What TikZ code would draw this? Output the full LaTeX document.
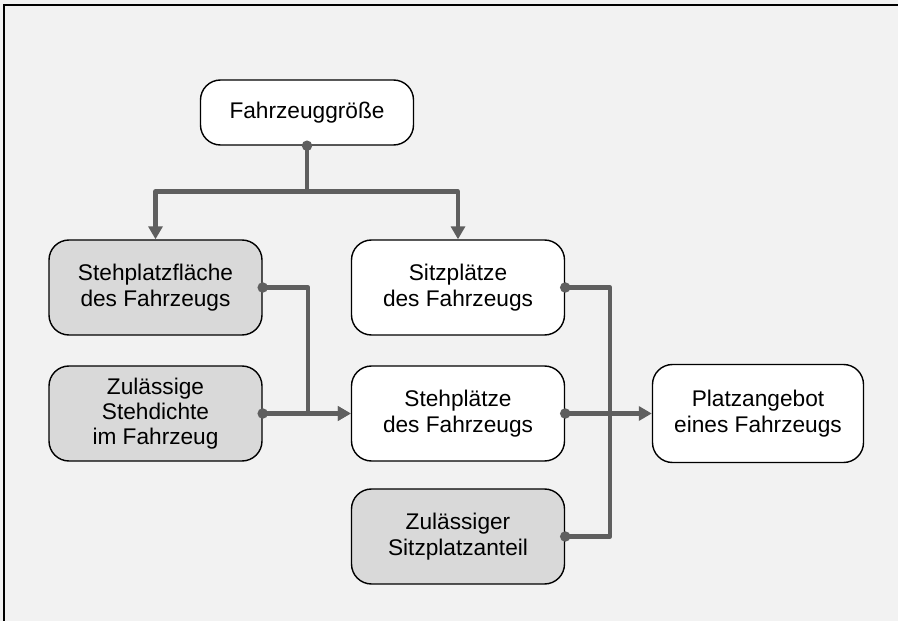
\documentclass[tikz,border=0pt]{standalone}
\usepackage{fontspec}
\setmainfont{Liberation Sans}
\usetikzlibrary{arrows.meta}

\definecolor{bggray}{HTML}{F2F2F2}
\definecolor{boxgray}{HTML}{D9D9D9}
\definecolor{linegray}{HTML}{5F5F5F}

\begin{document}
\begin{tikzpicture}[>={Triangle[length=0.26cm,width=0.28cm]},node distance=6cm,
  box/.style={draw=black,line width=0.8pt,rounded corners=0.4cm,fill=white,align=center,
    minimum width=4.26cm,minimum height=1.9cm,font=\fontsize{12.9}{14.4}\selectfont},
  greybox/.style={box,fill=boxgray},
  link/.style={draw=linegray,line width=2.3pt,line join=round}]

% background and frame
\useasboundingbox (0,0) rectangle (17.96,-12.42);
\fill[bggray] (-0.2,0.2) rectangle (18.2,-12.6);
\draw[line width=1.1pt] (0.08,-12.6) -- (0.08,-0.1) -- (18.2,-0.1);

\node[box,minimum height=1.3cm]  (groesse) at (6.14,-2.25)  {Fahrzeuggröße};
\node[greybox] (flaeche) at (3.11,-5.75) {Stehplatzfläche\\des Fahrzeugs};
\node[box]     (sitz)    [right of=flaeche,node distance=6.05cm] {Sitzplätze\\des Fahrzeugs};
\node[greybox] (dichte)  [below of=flaeche,node distance=2.52cm] {Zulässige\\Stehdichte\\im Fahrzeug};
\node[box]     (steh)    [below of=sitz,node distance=2.52cm]    {Stehplätze\\des Fahrzeugs};
\node[greybox] (anteil)  [below of=steh,node distance=2.46cm]    {Zulässiger\\Sitzplatzanteil};
\node[box,minimum width=4.22cm,minimum height=1.96cm] (angebot) [right of=steh] {Platzangebot\\eines Fahrzeugs};

\coordinate (split) at (groesse.south |- 0,-3.83);

\draw[link] (groesse.south) -- (split);
\draw[link,->] (split) -| (flaeche.north);
\draw[link,->] (split) -| (sitz.north);
\draw[link,->] (flaeche.east) -- ++(0.91,0) |- (steh.west);
\draw[link,->] (dichte.east) -- (steh.west);
\draw[link] (sitz.east) -- ++(0.9,0) |- (anteil.east);
\draw[link,->] (steh.east) -- (angebot.west);

\foreach \n/\a in {groesse/south,flaeche/east,dichte/east,sitz/east,steh/east,anteil/east}
  \fill[linegray] (\n.\a) circle (0.105);

\end{tikzpicture}
\end{document}
